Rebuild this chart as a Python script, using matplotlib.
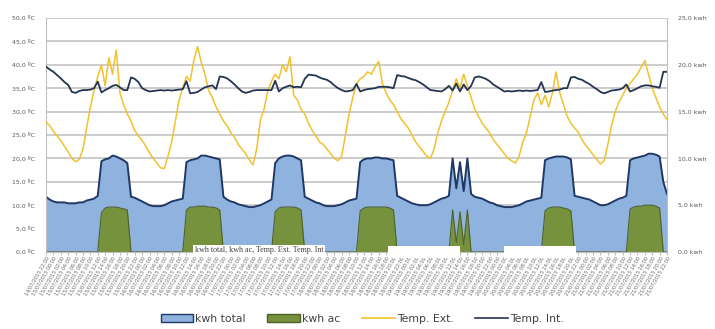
import numpy as np
import pandas as pd
import matplotlib
matplotlib.use("Agg")
import matplotlib.pyplot as plt
from matplotlib.patches import Patch, Rectangle
from matplotlib.lines import Line2D
from matplotlib.ticker import FuncFormatter

# hourly readings, 7 days
start = "2015-07-14 22:00"

temp_ext = [
    27.8, 27.0, 25.8, 24.8, 23.8, 22.6, 21.4, 20.0, 19.3, 19.8, 22.0, 26.5, 31.0, 34.5,
    37.5, 40.0, 35.5, 41.5, 38.0, 43.2, 34.0, 31.5, 29.5, 28.0, 26.0, 24.8, 23.8, 22.6,
    21.2, 20.0, 19.0, 18.0, 17.8, 20.5, 23.5, 28.0, 32.5, 35.0, 37.5, 36.5, 41.0, 43.9,
    40.5, 38.0, 34.5, 33.0, 31.0, 29.5, 28.0, 27.0, 25.5, 24.5, 23.0, 22.0, 21.0, 19.7,
    18.6, 22.0, 28.2, 30.5, 34.5, 36.5, 38.0, 37.0, 40.0, 38.5, 41.7, 33.5, 32.5, 30.5,
    29.5, 27.5, 26.0, 24.8, 23.5, 23.0, 22.0, 21.0, 20.0, 19.5, 20.5, 25.0, 29.5, 33.0,
    36.0, 37.0, 37.5, 38.5, 38.0, 39.5, 40.7, 36.0, 34.0, 32.5, 31.5, 30.0, 28.5, 27.5,
    26.5, 25.0, 23.5, 22.5, 21.5, 20.5, 20.0, 22.0, 25.5, 28.0, 30.0, 32.0, 34.5, 37.0,
    35.0, 38.0, 35.5, 33.0, 30.5, 29.0, 27.5, 26.5, 25.5, 24.0, 23.0, 22.0, 21.0, 20.0,
    19.5, 19.0, 20.5, 23.5, 25.5, 29.0, 32.5, 34.0, 31.5, 33.5, 31.0, 34.0, 38.5, 34.0,
    31.5, 29.0, 27.5, 26.5, 25.6, 24.0, 22.8, 21.8, 20.8, 19.8, 18.8, 19.5, 23.0, 27.0,
    30.0, 32.0, 33.5, 35.0, 36.0, 37.0, 38.0, 39.5, 40.9, 38.0, 35.0, 33.0, 31.0, 29.5,
    28.3,
]

temp_int = [
    39.6, 39.0, 38.5, 37.8, 37.1, 36.3, 35.7, 34.2, 34.0, 34.4, 34.6, 34.6, 34.7, 35.0,
    36.4, 34.1, 34.6, 35.0, 35.5, 35.7, 35.2, 34.6, 34.6, 37.3, 37.0, 36.3, 35.0, 34.6,
    34.3, 34.4, 34.5, 34.6, 34.5, 34.6, 34.5, 34.6, 34.7, 34.8, 36.5, 33.9, 34.0, 34.2,
    34.7, 35.2, 35.4, 35.6, 34.8, 37.5, 37.4, 37.1, 36.5, 35.8, 35.0, 34.3, 34.0, 34.2,
    34.5, 34.6, 34.6, 34.6, 34.6, 34.6, 36.6, 34.3, 35.0, 35.3, 35.6, 35.2, 35.3, 35.2,
    37.0, 37.9, 37.8, 37.7, 37.3, 37.0, 36.8, 36.3, 35.6, 35.0, 34.6, 34.3, 34.4, 34.6,
    35.9, 34.3, 34.6, 34.8, 34.9, 35.0, 35.3, 35.3, 35.3, 35.2, 35.0, 37.8, 37.6, 37.5,
    37.2, 36.9, 36.7, 36.3, 35.8, 35.2, 34.6, 34.5, 34.4, 34.3, 34.8, 35.5, 34.5, 36.0,
    34.3, 35.8, 34.6, 35.5, 37.3, 37.5, 37.3, 37.0, 36.5, 35.8, 35.3, 34.8, 34.3, 34.4,
    34.3, 34.4, 34.5, 34.4, 34.5, 34.4, 34.5, 34.6, 36.3, 34.2, 34.3, 34.5, 34.6, 34.7,
    35.0, 35.0, 37.3, 37.4, 37.0, 36.8, 36.3, 35.9, 35.3, 34.8, 34.2, 33.9, 34.2, 34.5,
    34.6, 34.7, 35.0, 35.8, 34.3, 34.6, 35.0, 35.4, 35.6, 35.6, 35.4, 35.3, 35.1, 38.5,
    38.5,
]

kwh_total = [
    5.9, 5.6, 5.4, 5.3, 5.3, 5.3, 5.2, 5.2, 5.2, 5.3, 5.3, 5.5, 5.6, 5.7,
    6.0, 9.7, 9.9, 10.0, 10.3, 10.2, 10.0, 9.8, 9.5, 5.9, 5.8, 5.6, 5.4, 5.2,
    5.0, 4.9, 4.9, 4.9, 5.0, 5.2, 5.4, 5.5, 5.6, 5.7, 9.6, 9.8, 9.9, 10.0,
    10.3, 10.3, 10.2, 10.1, 10.0, 9.9, 5.9, 5.6, 5.4, 5.3, 5.1, 5.0, 4.9, 4.8,
    4.8, 4.9, 5.0, 5.2, 5.4, 5.6, 9.5, 10.0, 10.2, 10.3, 10.3, 10.2, 10.0, 9.8,
    5.9, 5.7, 5.5, 5.3, 5.2, 5.0, 4.9, 4.9, 4.9, 5.0, 5.1, 5.3, 5.5, 5.6,
    5.7, 9.6, 9.9, 10.0, 10.0, 10.1, 10.1, 10.0, 10.0, 9.9, 9.8, 6.0, 5.8, 5.6,
    5.4, 5.2, 5.1, 5.0, 5.0, 5.0, 5.1, 5.3, 5.5, 5.7, 5.8, 6.0, 10.0, 6.8,
    9.6, 6.5, 10.0, 6.2, 5.9, 5.8, 5.7, 5.5, 5.3, 5.2, 5.0, 4.9, 4.8, 4.8,
    4.8, 4.9, 5.0, 5.2, 5.4, 5.5, 5.6, 5.7, 5.8, 9.8, 10.0, 10.1, 10.2, 10.2,
    10.2, 10.1, 9.9, 6.0, 5.9, 5.8, 5.7, 5.6, 5.4, 5.2, 5.0, 5.0, 5.1, 5.3,
    5.5, 5.7, 5.8, 6.0, 9.8, 10.0, 10.1, 10.2, 10.3, 10.5, 10.5, 10.4, 10.2, 7.5,
    6.2,
]

kwh_ac = [
    0, 0, 0, 0, 0, 0, 0, 0, 0, 0, 0, 0, 0, 0,
    0, 4.2, 4.7, 4.8, 4.8, 4.8, 4.7, 4.6, 4.5, 0, 0, 0, 0, 0,
    0, 0, 0, 0, 0, 0, 0, 0, 0, 0, 4.5, 4.8, 4.8, 4.9,
    4.9, 4.9, 4.8, 4.8, 4.7, 4.5, 0, 0, 0, 0, 0, 0, 0, 0,
    0, 0, 0, 0, 0, 0, 4.3, 4.7, 4.8, 4.8, 4.8, 4.8, 4.7, 4.5,
    0, 0, 0, 0, 0, 0, 0, 0, 0, 0, 0, 0, 0, 0,
    0, 4.4, 4.7, 4.8, 4.8, 4.8, 4.8, 4.8, 4.8, 4.7, 4.5, 0, 0, 0,
    0, 0, 0, 0, 0, 0, 0, 0, 0, 0, 0, 0, 4.5, 1.0,
    4.3, 0.8, 4.5, 0, 0, 0, 0, 0, 0, 0, 0, 0, 0, 0,
    0, 0, 0, 0, 0, 0, 0, 0, 0, 4.4, 4.7, 4.8, 4.8, 4.8,
    4.7, 4.6, 4.4, 0, 0, 0, 0, 0, 0, 0, 0, 0, 0, 0,
    0, 0, 0, 0, 4.6, 4.8, 4.9, 4.9, 5.0, 5.0, 5.0, 4.9, 4.7, 0,
    0,
]

times = pd.date_range(start, periods=len(temp_ext), freq="h")
x = np.arange(len(times))
tick_pos = x[::2]
tick_labels = [t.strftime("%d/%m/%Y %H:%M") for t in times[::2]]

c_blue = "#8FB2DE"
c_blue_edge = "#1F3864"
c_green = "#76923C"
c_green_edge = "#4F6228"
c_yellow = "#F2C12E"
c_navy = "#243451"
c_grid = "#BFBFBF"
c_text = "#595959"

fig = plt.figure(figsize=(7.15, 3.29), dpi=100)
ax_t = fig.add_axes([46 / 715, 1 - 252 / 329, 621 / 715, 234 / 329])
ax_k = ax_t.twinx()
ax_t.set_zorder(ax_k.get_zorder() + 1)
ax_t.patch.set_visible(False)

# kwh areas (right axis)
ax_k.fill_between(x, kwh_total, 0, color=c_blue, lw=0)
ax_k.plot(x, kwh_total, color=c_blue_edge, lw=1.4)
ax_k.fill_between(x, kwh_ac, 0, color=c_green, lw=0)
ax_k.plot(x, kwh_ac, color=c_green_edge, lw=0.8)
ax_k.set_ylim(0, 25)
ax_k.set_yticks(np.arange(0, 25.1, 5))
ax_k.set_yticks(np.arange(0, 25.1, 2.5), minor=True)
ax_k.grid(which="both", axis="y", color=c_grid, lw=1.1)
ax_k.set_axisbelow(True)
ax_k.yaxis.set_major_formatter(FuncFormatter(lambda v, p: f"{v:.1f} kwh".replace(".", ",")))
ax_k.tick_params(axis="y", which="both", length=0, labelsize=4.5, labelcolor=c_text, pad=8)

# temperatures (left axis)
ax_t.plot(x, temp_ext, color=c_yellow, lw=1.1)
ax_t.plot(x, temp_int, color=c_navy, lw=1.3)
ax_t.set_ylim(0, 50)
ax_t.set_yticks(np.arange(0, 50.1, 5))
ax_t.yaxis.set_major_formatter(FuncFormatter(lambda v, p: f"{v:.1f} ºC".replace(".", ",")))
ax_t.tick_params(axis="y", length=0, labelsize=4.5, labelcolor=c_text, pad=8)

ax_t.set_xlim(x[0], x[-1])
ax_t.set_xticks(tick_pos)
ax_t.set_xticklabels(tick_labels, rotation=60, ha="right", rotation_mode="anchor",
                     fontsize=3.5, color="#666666")
ax_t.tick_params(axis="x", length=2, color=c_grid, pad=1)

for a in (ax_t, ax_k):
    for s in a.spines.values():
        s.set_visible(False)
for side in ("left", "right", "bottom"):
    ax_k.spines[side].set_visible(True)
    ax_k.spines[side].set_color(c_grid)

# stray label box and blank strips over the base of the chart
ax_t.text(0.24, -0.01, "kwh total, kwh ac, Temp. Ext. Temp. Int", transform=ax_t.transAxes,
          fontsize=5.8, color="#404040", va="bottom", ha="left", family="Liberation Serif",
          bbox=dict(boxstyle="square,pad=0.2", fc="white", ec="none"), zorder=5)
for x0, w in [(0.55, 0.116), (0.737, 0.116)]:
    ax_t.add_patch(Rectangle((x0, -0.025), w, 0.05, transform=ax_t.transAxes,
                             fc="white", ec="none", zorder=5, clip_on=False))

handles = [
    Patch(facecolor=c_blue, edgecolor=c_blue_edge, lw=1.0, label="kwh total"),
    Patch(facecolor=c_green, edgecolor=c_green_edge, lw=1.0, label="kwh ac"),
    Line2D([], [], color=c_yellow, lw=1.2, label="Temp. Ext."),
    Line2D([], [], color=c_navy, lw=1.2, label="Temp. Int."),
]
fig.legend(handles=handles, loc="center", bbox_to_anchor=(362 / 715, 1 - 319 / 329),
           ncol=4, frameon=False, fontsize=7.8, labelcolor="#404040",
           handlelength=3.0, handleheight=0.8, handletextpad=0.2, columnspacing=2.0)

fig.savefig("out.png", dpi=100, facecolor="white")
